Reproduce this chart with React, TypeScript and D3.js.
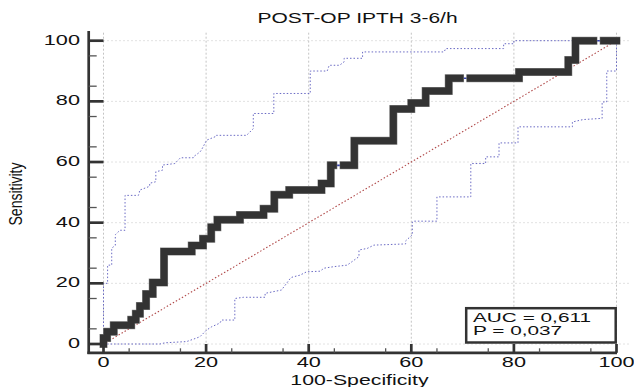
import React from "react";
import * as d3 from "d3";

const title = "POST-OP IPTH 3-6/h";
const xTitle = "100-Specificity";
const yTitle = "Sensitivity";
const legendLines = ["AUC = 0,611", "P = 0,037"];

const xTicks = [0, 20, 40, 60, 80, 100];
const yTicks = [0, 20, 40, 60, 80, 100];
const minorTicks = d3.range(5, 100, 10);

// ROC curve (100-specificity, sensitivity), drawn in pieces separated by small gaps
const rocPiece1: [number, number][] = [
  [0, 0], [0, 2], [0.7, 2], [0.7, 4], [2, 4], [2, 6.2], [5.4, 6.2], [5.4, 8], [6.3, 8], [6.3, 10],
  [7.1, 10], [7.1, 12.5], [8.3, 12.5], [8.3, 16.5], [9.6, 16.5], [9.6, 20.3], [11.8, 20.3],
  [11.8, 30.5], [17.2, 30.5], [17.2, 32.5], [19.4, 32.5], [19.4, 34.7], [21, 34.7], [21, 38.5],
  [22.2, 38.5], [22.2, 41], [26.6, 41], [26.6, 42.5], [31.2, 42.5], [31.2, 44.6], [33.3, 44.6],
  [33.3, 49.2], [36.2, 49.2], [36.2, 50.8], [42.5, 50.8], [42.5, 52.9], [44.3, 52.9], [44.3, 58.9],
  [44.8, 58.9],
];
const rocPiece2: [number, number][] = [
  [46.8, 58.9], [48.9, 58.9], [48.9, 67], [56.5, 67], [56.5, 77.5], [60, 77.5], [60, 79.5],
  [62.8, 79.5], [62.8, 83.4], [67.3, 83.4], [67.3, 87.6], [69.5, 87.6],
];
const rocPiece3: [number, number][] = [
  [71.5, 87.6], [81, 87.6], [81, 89.7], [90.6, 89.7], [90.6, 93.6], [92, 93.6], [92, 100], [95.5, 100],
];
const rocPiece4: [number, number][] = [[97.5, 100], [100, 100]];
const rocPieces = [rocPiece1, rocPiece2, rocPiece3, rocPiece4];

// 95% confidence bounds
const ciUpper: [number, number][] = [
  [0, 0], [0, 20], [0.8, 20], [0.8, 26], [1.6, 26], [1.6, 31.6], [2.3, 32.5], [2.3, 36], [3.2, 37.5],
  [4.2, 37.5], [4.2, 49], [6.8, 49], [7, 50], [7, 50.7], [9, 52], [9, 53], [10.2, 53.5], [10.2, 56.8],
  [11.5, 57.3], [11.5, 59], [13.9, 59.5], [15, 61.4], [17.5, 61.4], [17.5, 61.7], [18.8, 63.3],
  [19.1, 64], [20.1, 67.2], [22, 68.5], [22, 68.8], [27.9, 68.8], [28, 69], [29.2, 71], [29.2, 76],
  [33.2, 76], [33.2, 82.6], [40.3, 82.6], [40.3, 90], [43.6, 90], [44, 91.9], [46, 91.9], [46.9, 93],
  [46.9, 94.2], [50.5, 94.2], [50.5, 96.3], [66.4, 96.3], [66.7, 97.4], [78, 97.4], [78, 99], [80, 99],
  [80, 100], [100, 100],
];
const ciLower: [number, number][] = [
  [0, 0], [11, 0], [12, 0.4], [16.2, 0.8], [18.2, 2], [18.8, 2.4], [20.1, 4.6], [21.1, 5.7],
  [22.7, 6.9], [23, 7.9], [25.6, 7.9], [25.6, 15], [27.3, 15.4], [31.5, 15.4], [31.5, 16.7],
  [34.7, 17.8], [36.4, 21.6], [36.7, 22], [38.3, 22.7], [39.6, 23.8], [42.2, 24], [43, 25],
  [44.9, 25.5], [47.5, 26], [49.8, 28.8], [49.8, 31], [51.4, 31.5], [52.7, 32.6], [58.9, 33],
  [58.9, 34], [60.2, 36], [60.2, 40.3], [60.5, 40.5], [65, 40.5], [65, 48.5], [71.6, 48.5],
  [71.6, 59.5], [74.5, 59.5], [74.5, 61.7], [77.1, 61.7], [77.1, 66.3], [80.8, 66.3], [80.8, 71.6],
  [91.4, 71.6], [91.4, 73.2], [93.5, 74], [97.2, 74.4], [97.2, 79.8], [98.1, 79.8], [98.1, 90],
  [100, 90], [100, 100],
];
const diagonal: [number, number][] = [[0, 0], [100, 100]];

const FONT = "'Liberation Sans', Arial, Helvetica, sans-serif";
const W = 634;
const H = 387;

function SText(props: {
  x: number; y: number; sx?: number; anchor?: string; size?: number; rotate?: number; children: React.ReactNode;
}) {
  const { x, y, sx = 1.55, anchor = "start", size = 14, rotate, children } = props;
  const t = `translate(${x},${y}) scale(${sx},1)${rotate ? ` rotate(${rotate})` : ""}`;
  return (
    <text transform={t} textAnchor={anchor as any} fontSize={size} fontFamily={FONT} fill="#111">
      {children}
    </text>
  );
}

export default function App() {
  const x = d3.scaleLinear().domain([0, 100]).range([103.5, 616.5]);
  const y = d3.scaleLinear().domain([0, 100]).range([344, 40.7]);
  const line = d3.line<[number, number]>().x((d) => x(d[0])).y((d) => y(d[1]));
  const axisX = 88.7;
  const axisY = 352.8;
  const allRoc = ([] as [number, number][]).concat(...rocPieces);

  return (
    <svg width={W} height={H} style={{ position: "absolute", left: 0, top: 0, background: "#fff" }}>
      <rect width={W} height={H} fill="#fff" />
      {/* grid */}
      <g stroke="#c4c4c4" strokeWidth={1}>
        {xTicks.map((t) => (
          <line key={"gx" + t} x1={x(t)} x2={x(t)} y1={32.7} y2={y(0)} strokeDasharray="2,2" />
        ))}
        {yTicks.map((t) => (
          <line key={"gy" + t} x1={x(0)} x2={630} y1={y(t)} y2={y(t)} strokeDasharray="1,3" />
        ))}
      </g>
      {/* diagonal */}
      <path d={line(diagonal) || ""} fill="none" stroke="#b04848" strokeWidth={1.1} strokeDasharray="1.5,2" />
      {/* CI bounds */}
      <path d={line(ciUpper) || ""} fill="none" stroke="#6a6ac4" strokeWidth={1} strokeDasharray="1.5,2" />
      <path d={line(ciLower) || ""} fill="none" stroke="#6a6ac4" strokeWidth={1} strokeDasharray="1.5,2" />
      {/* ROC curve */}
      <path d={line(allRoc) || ""} fill="none" stroke="#3340b0" strokeWidth={1.6} />
      {rocPieces.map((p, i) => (
        <path key={"rocs" + i} d={line(p) || ""} fill="none" stroke="#8a8a8a" strokeWidth={8}
          strokeLinecap="square" strokeLinejoin="miter" />
      ))}
      {rocPieces.map((p, i) => (
        <path key={"roc" + i} d={line(p) || ""} fill="none" stroke="#333333" strokeWidth={7}
          strokeLinecap="square" strokeLinejoin="miter" />
      ))}
      {/* axes */}
      <line x1={axisX} x2={axisX} y1={31} y2={axisY + 1.3} stroke="#333" strokeWidth={2.7} />
      <line x1={axisX - 1.3} x2={617} y1={axisY} y2={axisY} stroke="#333" strokeWidth={2.7} />
      {yTicks.map((t) => (
        <line key={"ty" + t} x1={axisX} x2={x(0)} y1={y(t)} y2={y(t)} stroke="#333" strokeWidth={2.7} />
      ))}
      {minorTicks.map((t) => (
        <line key={"mty" + t} x1={axisX} x2={axisX + 8} y1={y(t)} y2={y(t)} stroke="#555" strokeWidth={1.3} />
      ))}
      {xTicks.map((t) => (
        <line key={"tx" + t} x1={x(t)} x2={x(t)} y1={axisY} y2={y(0)} stroke="#333" strokeWidth={2.7} />
      ))}
      {minorTicks.map((t) => (
        <line key={"mtx" + t} x1={x(t)} x2={x(t)} y1={axisY} y2={axisY - 4.5} stroke="#555" strokeWidth={1.3} />
      ))}
      {/* tick labels */}
      {yTicks.map((t) => (
        <SText key={"ly" + t} x={80} y={y(t) + 4} anchor="end">{String(t)}</SText>
      ))}
      {xTicks.map((t) => (
        <SText key={"lx" + t} x={x(t)} y={367} anchor="middle">{String(t)}</SText>
      ))}
      {/* titles */}
      <SText x={357.5} y={23} anchor="middle" sx={1.5}>{title}</SText>
      <SText x={359.5} y={385} anchor="middle" sx={1.52}>{xTitle}</SText>
      <SText x={22} y={194} anchor="middle" sx={1.25} rotate={-90}>{yTitle}</SText>
      {/* legend */}
      <rect x={466.2} y={308.2} width={149.5} height={34.3} fill="#fff" stroke="#333" strokeWidth={2.5} />
      {legendLines.map((s, i) => (
        <SText key={"lg" + i} x={473} y={321.7 + i * 13.5} size={13} sx={1.6}>{s}</SText>
      ))}
    </svg>
  );
}
